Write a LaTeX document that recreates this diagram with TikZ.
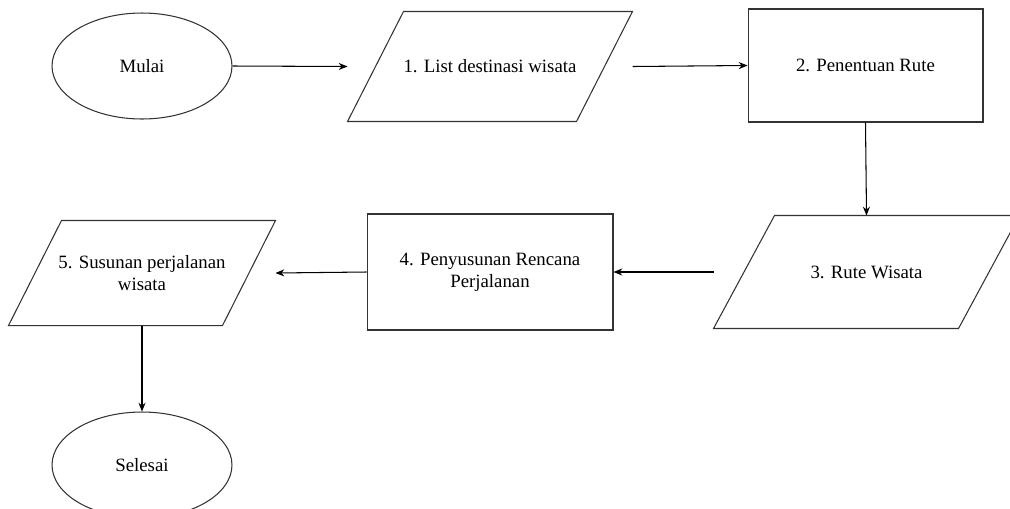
\documentclass[tikz,border=0pt]{standalone}
\usepackage{fontspec}
\setmainfont{Liberation Serif}
\usetikzlibrary{shapes.geometric,arrows.meta}

\begin{document}
\begin{tikzpicture}[x=0.02cm, y=-0.02cm, line width=0.6pt,
    >={Stealth[length=5pt,width=4pt]},
    font=\fontsize{10.7}{12.5}\selectfont,
    term/.style = {draw=black!80, ellipse, minimum width=3.6cm, minimum height=2.12cm},
    proc/.style = {draw=black!80, rectangle, align=center},
    io/.style = {rectangle, align=center}]
      \useasboundingbox (0,0) rectangle (1010,508);
      \node[term] (mulai) at (142,66) {Mulai};
      \node[io, minimum width=5.68cm, minimum height=2.18cm] (1) at (490,66.5) {1. List destinasi wisata};
      \node[proc, minimum width=4.7cm, minimum height=2.26cm] (2) at (865.5,65.5) {2. Penentuan Rute};
      \node[io, minimum width=6.1cm, minimum height=2.24cm] (3) at (866.5,272) {3. Rute Wisata};
      \node[proc, minimum width=4.92cm, minimum height=2.32cm] (4) at (490,272) {4. Penyusunan Rencana\\Perjalanan};
      \node[io, minimum width=5.32cm, minimum height=2.08cm] (5) at (142,273) {5. Susunan perjalanan\\wisata};
      \node[term] (selesai) at (142,465) {Selesai};
      % input/output shapes
      \foreach \n/\s in {1/56, 3/61, 5/53}
        \draw[black!80] ([xshift=\s*0.02cm]\n.north west) -- (\n.north east)
          -- ([xshift=-\s*0.02cm]\n.south east) -- (\n.south west) -- cycle;
      \draw[->] (mulai.east) -- (1.west);
      \draw[->] (1.east) -- (2.west);
      \draw[->] (2.south) -- (3.north);
      \draw[->] (3.west) -- (4.east);
      \draw[->] (4.west) -- (5.east);
      \draw[->] (5.south) -- (selesai.north);
    \end{tikzpicture}
\end{document}
